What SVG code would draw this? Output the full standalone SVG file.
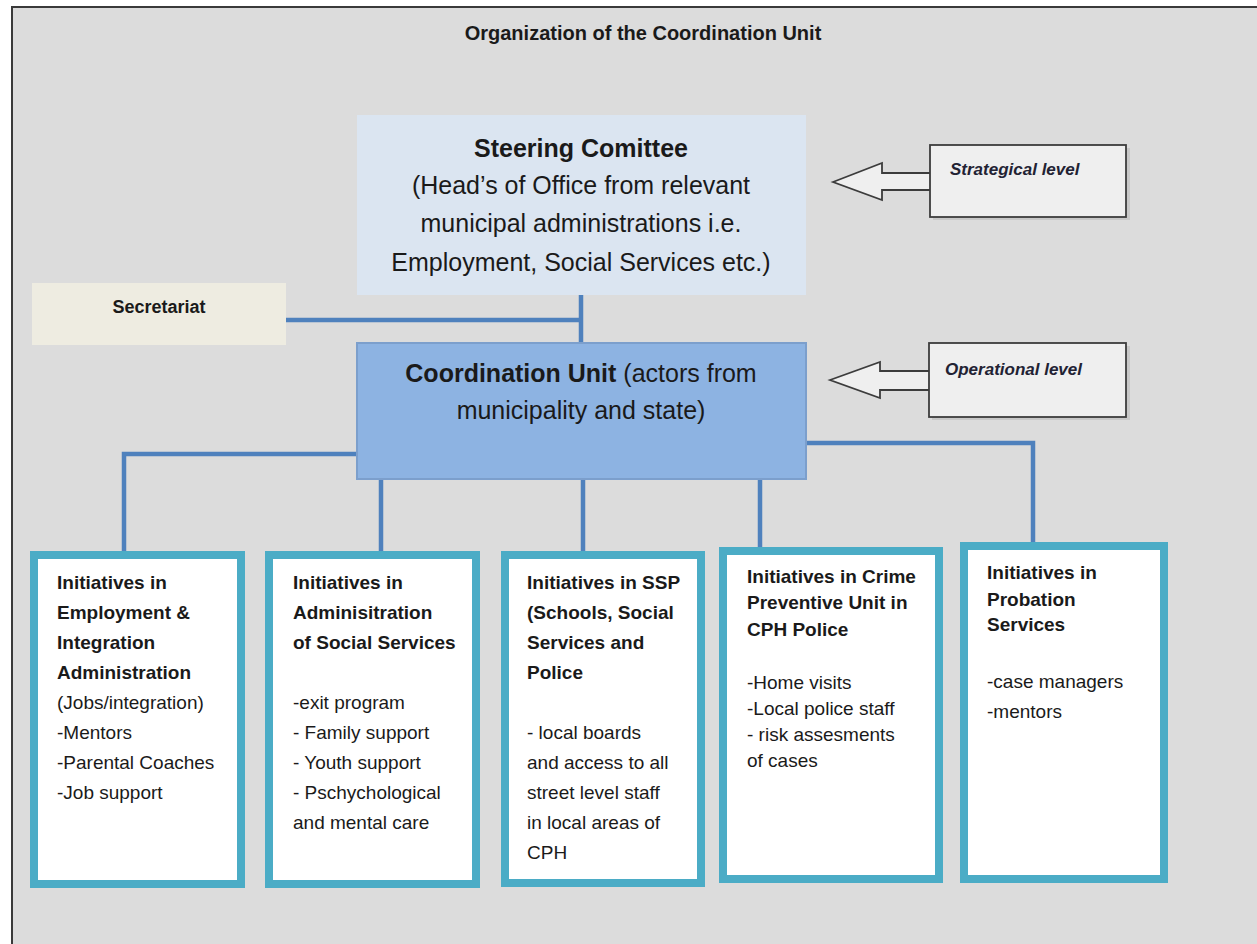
<svg xmlns="http://www.w3.org/2000/svg" width="1257" height="944" viewBox="0 0 1257 944">
  <style>
    text { font-family: "Liberation Sans", Arial, sans-serif; fill: #1a1a1a; }
    .title { font-size: 20px; font-weight: bold; }
    .big { font-size: 25px; }
    .b { font-weight: bold; }
    .lvl { font-size: 17px; font-weight: bold; font-style: italic; fill: #222233; }
    .box { font-size: 19px; }
    .conn { stroke: #4f81bd; stroke-width: 4.5; fill: none; }
    .init { fill: #ffffff; stroke: #4bacc6; stroke-width: 8; }
    .lvlbox { fill: #efefef; stroke: #3c3c3c; stroke-width: 1.8; }
    .arrow { fill: #efefef; stroke: #3c3c3c; stroke-width: 1.8; stroke-linejoin: miter; }
    .shadow { fill: #c8c8c8; }
  </style>

  <rect x="0" y="0" width="1257" height="944" fill="#ffffff"/>
  <rect x="12" y="7" width="1270" height="960" fill="#dcdcdc" stroke="#3a3a3a" stroke-width="2"/>

  <text class="title" x="643" y="40" text-anchor="middle">Organization of the Coordination Unit</text>

  <g id="connectors">
    <path class="conn" d="M581,295 V343"/>
    <path class="conn" d="M286,320 H581"/>
    <path class="conn" d="M357,454 H124 V552"/>
    <path class="conn" d="M381,479 V552"/>
    <path class="conn" d="M583,479 V552"/>
    <path class="conn" d="M760,479 V556"/>
    <path class="conn" d="M806,443 H1033 V547"/>
  </g>

  <g id="steering-committee">
    <rect x="357" y="115" width="449" height="180" fill="#dbe5f1"/>
    <text class="big b" x="581" y="157" text-anchor="middle">Steering Comittee</text>
    <text class="big" x="581" y="194" text-anchor="middle">(Head’s of Office from relevant</text>
    <text class="big" x="581" y="232" text-anchor="middle">municipal administrations i.e.</text>
    <text class="big" x="581" y="271" text-anchor="middle">Employment, Social Services etc.)</text>
  </g>

  <g id="strategical-level">
    <polygon class="arrow" points="833,182 882,163 882,173 931,173 931,190 882,190 882,200"/>
    <rect class="shadow" x="933" y="148" width="197" height="72"/>
    <rect class="lvlbox" x="930" y="145" width="196" height="72"/>
    <text class="lvl" x="950" y="175">Strategical level</text>
  </g>

  <g id="secretariat">
    <rect x="32" y="283" width="254" height="62" fill="#eeece1"/>
    <text class="box b" x="159" y="313" text-anchor="middle" style="font-size:18px">Secretariat</text>
  </g>

  <g id="coordination-unit">
    <rect x="357" y="343" width="449" height="136" fill="#8db3e2" stroke="#7c9fcc" stroke-width="2"/>
    <text class="big" x="581" y="382" text-anchor="middle"><tspan class="b">Coordination Unit</tspan> (actors from</text>
    <text class="big" x="581" y="419" text-anchor="middle">municipality and state)</text>
  </g>

  <g id="operational-level">
    <polygon class="arrow" points="830,380 880,362 880,371 930,371 930,390 880,390 880,398"/>
    <rect class="shadow" x="932" y="346" width="198" height="74"/>
    <rect class="lvlbox" x="929" y="343" width="197" height="74"/>
    <text class="lvl" x="945" y="375">Operational level</text>
  </g>

  <g id="employment">
    <rect class="init" x="34" y="555" width="207" height="329"/>
    <text class="box b" x="57" y="589">Initiatives in</text>
    <text class="box b" x="57" y="619">Employment &amp;</text>
    <text class="box b" x="57" y="649">Integration</text>
    <text class="box b" x="57" y="679">Administration</text>
    <text class="box" x="57" y="709">(Jobs/integration)</text>
    <text class="box" x="57" y="739">-Mentors</text>
    <text class="box" x="57" y="769">-Parental Coaches</text>
    <text class="box" x="57" y="799">-Job support</text>
  </g>

  <g id="social-services">
    <rect class="init" x="269" y="555" width="207" height="329"/>
    <text class="box b" x="293" y="589">Initiatives in</text>
    <text class="box b" x="293" y="619">Adminisitration</text>
    <text class="box b" x="293" y="649">of Social Services</text>
    <text class="box" x="293" y="709">-exit program</text>
    <text class="box" x="293" y="739">- Family support</text>
    <text class="box" x="293" y="769">- Youth support</text>
    <text class="box" x="293" y="799">- Pschychological</text>
    <text class="box" x="293" y="829">and mental care</text>
  </g>

  <g id="ssp">
    <rect class="init" x="505" y="555" width="196" height="328"/>
    <text class="box b" x="527" y="589">Initiatives in SSP</text>
    <text class="box b" x="527" y="619">(Schools, Social</text>
    <text class="box b" x="527" y="649">Services and</text>
    <text class="box b" x="527" y="679">Police</text>
    <text class="box" x="527" y="739">- local boards</text>
    <text class="box" x="527" y="769">and access to all</text>
    <text class="box" x="527" y="799">street level staff</text>
    <text class="box" x="527" y="829">in local areas of</text>
    <text class="box" x="527" y="859">CPH</text>
  </g>

  <g id="crime-prevention">
    <rect class="init" x="723" y="551" width="216" height="328"/>
    <text class="box b" x="747" y="583">Initiatives in Crime</text>
    <text class="box b" x="747" y="609">Preventive Unit in</text>
    <text class="box b" x="747" y="636">CPH Police</text>
    <text class="box" x="747" y="689">-Home visits</text>
    <text class="box" x="747" y="715">-Local police staff</text>
    <text class="box" x="747" y="741">- risk assesments</text>
    <text class="box" x="747" y="767">of cases</text>
  </g>

  <g id="probation">
    <rect class="init" x="964" y="546" width="200" height="333"/>
    <text class="box b" x="987" y="579">Initiatives in</text>
    <text class="box b" x="987" y="606">Probation</text>
    <text class="box b" x="987" y="631">Services</text>
    <text class="box" x="987" y="688">-case managers</text>
    <text class="box" x="987" y="718">-mentors</text>
  </g>
</svg>
